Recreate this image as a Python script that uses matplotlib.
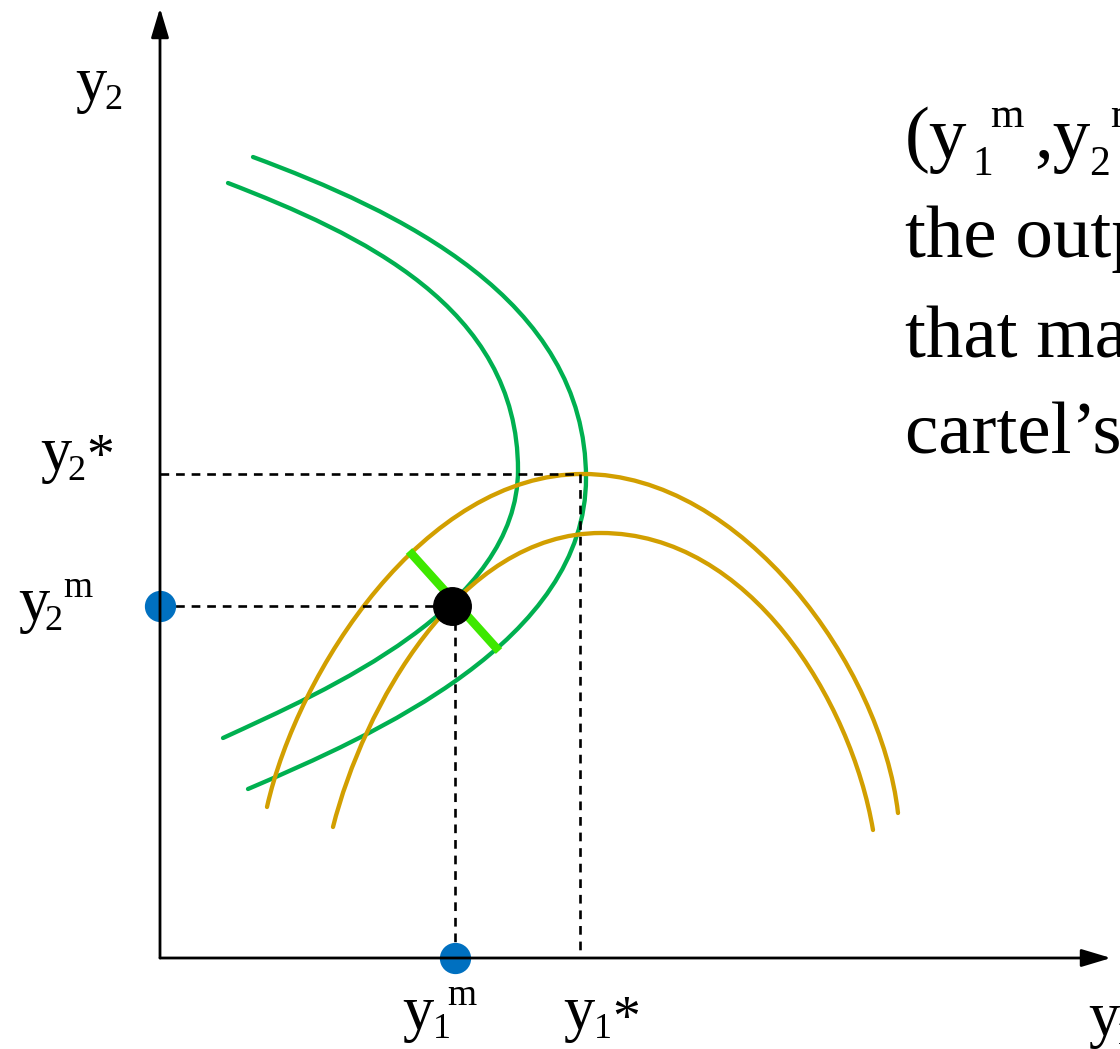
import numpy as np
import matplotlib.pyplot as plt
from matplotlib.path import Path
from matplotlib.patches import PathPatch

# curve points (pixel coordinates, y grows downward)
# each curve: points before its turning point, the turning point, points after it
green_inner = [(228, 183), (283, 205), (333, 228), (383, 257), (417, 280), (450, 310),
               (477, 340), (497, 373), (510, 407), (517, 440)]
green_inner_turn = (518, 470)
green_inner_rest = [(512, 507), (500, 540), (483, 567), (463, 590), (452, 606), (433, 622),
                    (400, 643), (367, 663), (333, 683), (300, 703), (267, 720), (223, 738)]

green_outer = [(253, 157), (300, 175), (350, 197), (400, 222), (433, 242), (467, 265),
               (500, 293), (533, 328), (553, 357), (570, 393), (580, 430)]
green_outer_turn = (586, 478)
green_outer_rest = [(583, 507), (577, 540), (560, 573), (533, 613), (500, 647), (467, 673),
                    (433, 693), (400, 713), (367, 735), (333, 753), (300, 768), (248, 789)]

gold_outer = [(267, 807), (280, 767), (293, 730), (310, 693), (327, 660), (343, 633),
              (367, 600), (387, 577), (410, 553), (433, 535), (467, 512), (500, 493),
              (533, 482), (560, 477)]
gold_outer_turn = (583, 474)
gold_outer_rest = [(627, 480), (660, 490), (693, 505), (727, 527), (760, 553), (793, 587),
                   (827, 630), (850, 670), (870, 713), (887, 760), (898, 813)]

gold_inner = [(333, 827), (350, 773), (367, 730), (393, 680), (417, 647), (440, 620),
              (452, 606), (467, 592), (483, 573), (517, 553), (550, 540), (575, 535)]
gold_inner_turn = (601, 533)
gold_inner_rest = [(643, 538), (693, 557), (727, 577), (760, 607), (793, 643),
                   (820, 683), (843, 733), (860, 777), (873, 830)]

y_star = 474      # y2*
x_star = 580      # y1*
opt = (452, 606)  # (y1m, y2m)
origin = (160, 958)
seg = [(409, 551), (499, 651)]

GREEN = '#00B050'
GOLD = '#D29F00'
BLUE = '#0070C0'
LIME = '#3EE800'
FONT = 'Liberation Serif'


def bern(t):
    return np.stack([(1 - t) ** 3, 3 * t * (1 - t) ** 2, 3 * t ** 2 * (1 - t), t ** 3], 1)


def fit_half(pts, turn, tangent):
    # cubic bezier from pts[0] to turn, least squares, tangent at turn fixed
    p = np.vstack([pts, turn]).astype(float)
    P0, P3, T = p[0], p[-1], np.asarray(tangent, float)
    d = np.r_[0, np.cumsum(np.hypot(*np.diff(p, axis=0).T))]
    t = d / d[-1]
    for _ in range(20):
        b = bern(t)
        rhs = p - np.outer(b[:, 0], P0) - np.outer(b[:, 2] + b[:, 3], P3)
        A = np.zeros((2 * len(t), 3))
        A[0::2, 0] = b[:, 1]
        A[1::2, 1] = b[:, 1]
        A[0::2, 2] = b[:, 2] * T[0]
        A[1::2, 2] = b[:, 2] * T[1]
        sol = np.linalg.lstsq(A, rhs.ravel(), rcond=None)[0]
        P1, P2 = sol[:2], P3 + sol[2] * T
        ctrl = np.array([P0, P1, P2, P3])
        tt = np.linspace(0, 1, 400)
        dense = bern(tt) @ ctrl
        idx = np.argmin(((p[:, None, :] - dense[None]) ** 2).sum(-1), axis=1)
        t = tt[idx]
        t[0], t[-1] = 0, 1
    return ctrl


def curve(ax, first, turn, rest, tangent, color, lw=3.1):
    a = fit_half(first, turn, tangent)
    b = fit_half(rest[::-1], turn, tangent)[::-1]
    verts = [a[0], a[1], a[2], a[3], b[1], b[2], b[3]]
    codes = [Path.MOVETO] + [Path.CURVE4] * 6
    ax.add_patch(PathPatch(Path(verts, codes), fill=False, ec=color, lw=lw,
                           capstyle='round', joinstyle='round'))


fig = plt.figure(figsize=(11.2, 10.49), dpi=100)
ax = fig.add_axes([0, 0, 1, 1])
ax.set_xlim(0, 1120)
ax.set_ylim(1049, 0)
ax.axis('off')

# axes with arrows
arrow = dict(arrowstyle='-|>,head_length=0.9,head_width=0.27', lw=2.0, color='black',
             mutation_scale=20, shrinkA=0, shrinkB=0)
ax.annotate('', xy=(origin[0], 8), xytext=origin, arrowprops=arrow)
ax.annotate('', xy=(1111, origin[1]), xytext=origin, arrowprops=arrow)

# dashed guides
dash = dict(color='black', lw=1.9, dashes=(3.3, 2.6))
ax.plot([origin[0], x_star], [y_star, y_star], **dash)
ax.plot([x_star, x_star], [y_star, origin[1]], **dash)
ax.plot([origin[0], opt[0]], [opt[1], opt[1]], **dash)
ax.plot([opt[0] + 3, opt[0] + 3], [opt[1], origin[1]], **dash)

curve(ax, green_inner, green_inner_turn, green_inner_rest, (0, 1), GREEN)
curve(ax, green_outer, green_outer_turn, green_outer_rest, (0, 1), GREEN)
curve(ax, gold_outer, gold_outer_turn, gold_outer_rest, (1, 0), GOLD)
curve(ax, gold_inner, gold_inner_turn, gold_inner_rest, (1, 0), GOLD)

ax.plot([seg[0][0], seg[1][0]], [seg[0][1], seg[1][1]], color=LIME, lw=6.2,
        solid_capstyle='butt')
ax.plot(*opt, 'o', color='black', ms=27)
ax.plot([origin[0], opt[0] + 3], [opt[1], origin[1]], 'o', color=BLUE, ms=21.5,
        ls='none', clip_on=False)


def txt(x, y, s, size):
    ax.text(x, y, s, fontsize=size, family=FONT, ha='left', va='baseline')


# axis labels
txt(75, 100, 'y', 45); txt(104, 109, '2', 26)
txt(40, 470, 'y', 45); txt(67, 480, '2', 26); txt(86, 473, '*', 40)
txt(18, 620, 'y', 45); txt(44, 630, '2', 26); txt(63, 597, 'm', 27)
txt(402, 1029, 'y', 45); txt(433, 1038, '1', 26); txt(447, 1005, 'm', 27)
txt(563, 1029, 'y', 45); txt(594, 1038, '1', 26); txt(612, 1035, '*', 40)
txt(1088, 1035, 'y', 45); txt(1116, 1044, '1', 26)

# annotation on the right
txt(905, 158, '(y', 54); txt(972, 175, '1', 30); txt(990, 127, 'm', 31)
txt(1034, 158, ',y', 54); txt(1089, 175, '2', 30); txt(1110, 127, 'm', 31)
txt(905, 257, 'the output', 54)
txt(905, 357, 'that maximizes', 54)
txt(905, 453, 'cartel\u2019s profit', 54)

fig.savefig('out.png', dpi=100)
